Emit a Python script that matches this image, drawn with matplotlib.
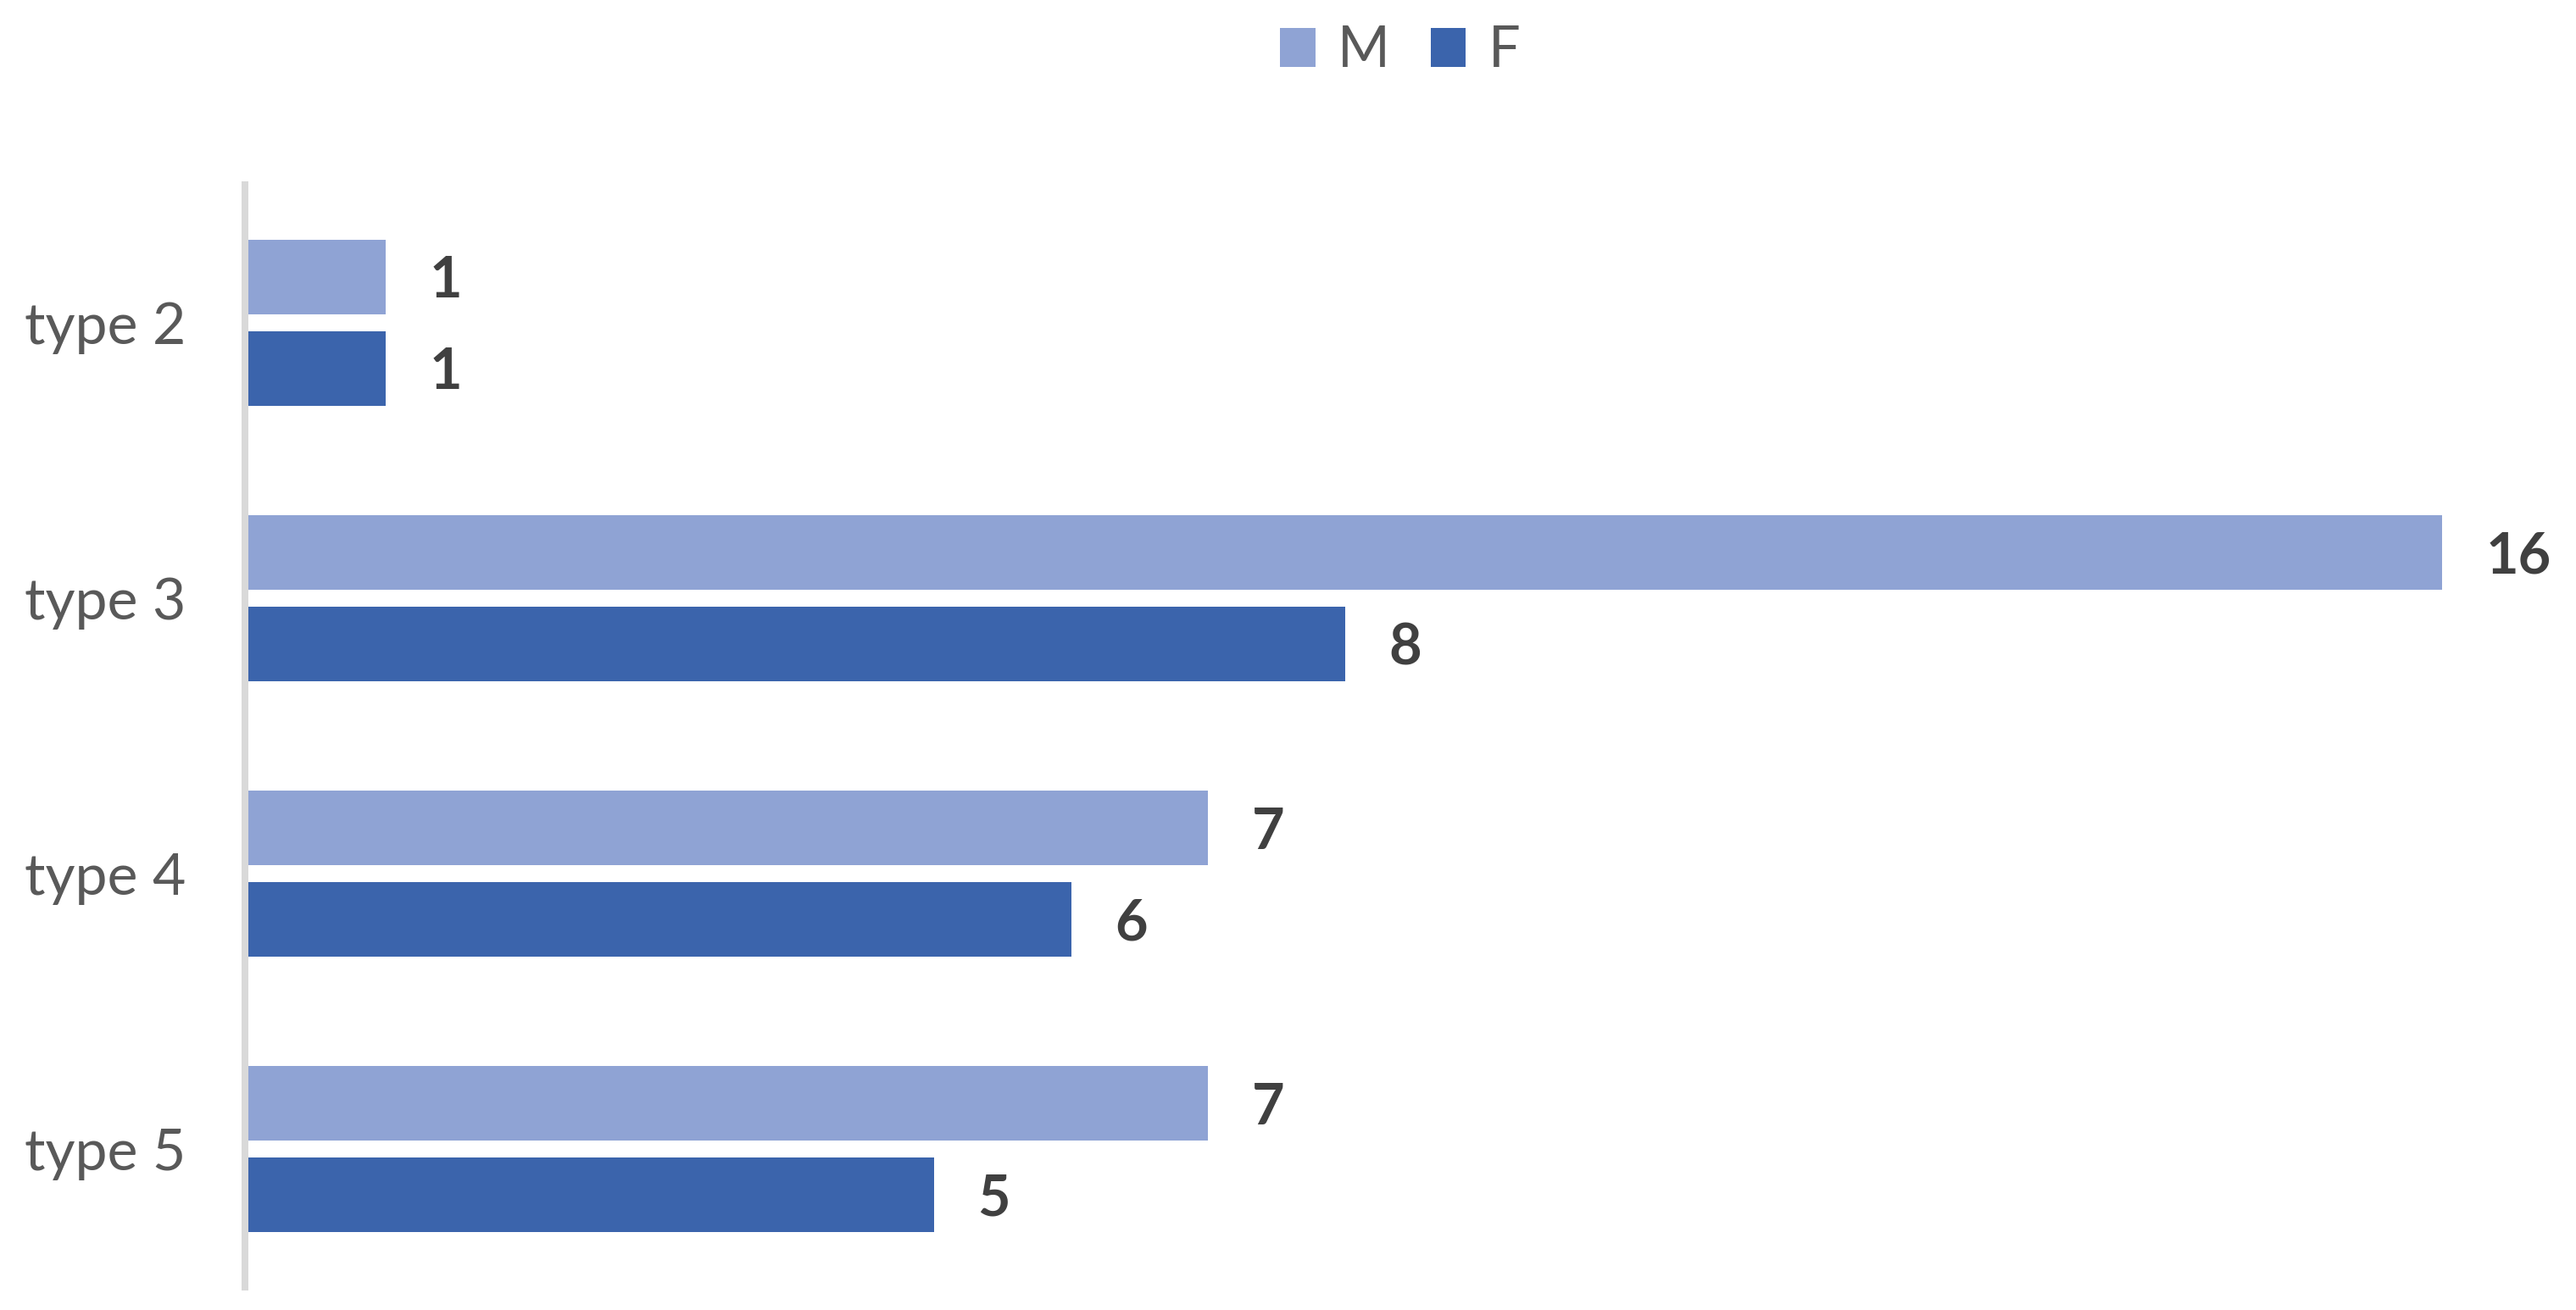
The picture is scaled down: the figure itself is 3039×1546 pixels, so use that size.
import matplotlib
matplotlib.use("Agg")
import matplotlib.pyplot as plt
from matplotlib.patches import Patch
import numpy as np

# donnees
categories = ["type 2", "type 3", "type 4", "type 5"]
valeurs_m = [1, 16, 7, 7]
valeurs_f = [1, 8, 6, 5]
series = ["M", "F"]

couleur_m = "#8FA3D4"
couleur_f = "#3B64AC"
gris_texte = "#595959"
gris_valeur = "#404040"
gris_axe = "#D9D9D9"

plt.rcParams["font.family"] = ["Lato", "DejaVu Sans"]

W, H, DPI = 3039, 1546, 100
fig = plt.figure(figsize=(W / DPI, H / DPI), dpi=DPI, facecolor="white")

# zone de trace en pixels (origine en haut a gauche)
gauche_px, droite_px = 289, 2881
haut_px, bas_px = 218, 1519
ax = fig.add_axes([gauche_px / W, 1 - bas_px / H,
                   (droite_px - gauche_px) / W, (bas_px - haut_px) / H])

unite_px = (droite_px - 293) / max(valeurs_m)
y = np.arange(len(categories))
hauteur = 0.27
decalage = 0.166

barres_m = ax.barh(y - decalage, valeurs_m, height=hauteur, color=couleur_m, zorder=3)
barres_f = ax.barh(y + decalage, valeurs_f, height=hauteur, color=couleur_f, zorder=3)

# etiquettes de valeur, un peu sous le centre de la barre comme dans Excel
for barres, valeurs in ((barres_m, valeurs_m), (barres_f, valeurs_f)):
    for b, v in zip(barres, valeurs):
        ax.annotate(str(v), (b.get_width(), b.get_y() + b.get_height() / 2),
                    xytext=(37, -4), textcoords="offset points",
                    ha="left", va="center", fontsize=48, fontweight="bold",
                    color=gris_valeur, annotation_clip=False)

ax.set_xlim(-4 / unite_px, max(valeurs_m))
ax.set_ylim(len(categories) - 0.5, -0.5)

ax.set_yticks(y)
ax.set_yticklabels(categories, fontsize=49, color=gris_texte)
ax.tick_params(axis="y", length=0, pad=50)
ax.set_xticks([])

for cote in ["top", "right", "bottom"]:
    ax.spines[cote].set_visible(False)
ax.spines["left"].set_color(gris_axe)
ax.spines["left"].set_linewidth(8 * 72 / DPI)
ax.spines["left"].set_zorder(1)

# legende
poignees = [Patch(facecolor=couleur_m), Patch(facecolor=couleur_f)]
fig.legend(poignees, series, loc="center", bbox_to_anchor=(1652 / W, 1 - 60 / H),
           ncol=2, frameon=False, fontsize=48, labelcolor=gris_texte,
           handlelength=0.62, handleheight=0.68, handletextpad=0.4,
           columnspacing=0.72, borderpad=0)

fig.savefig("out.png", dpi=DPI, facecolor="white")
plt.close(fig)
